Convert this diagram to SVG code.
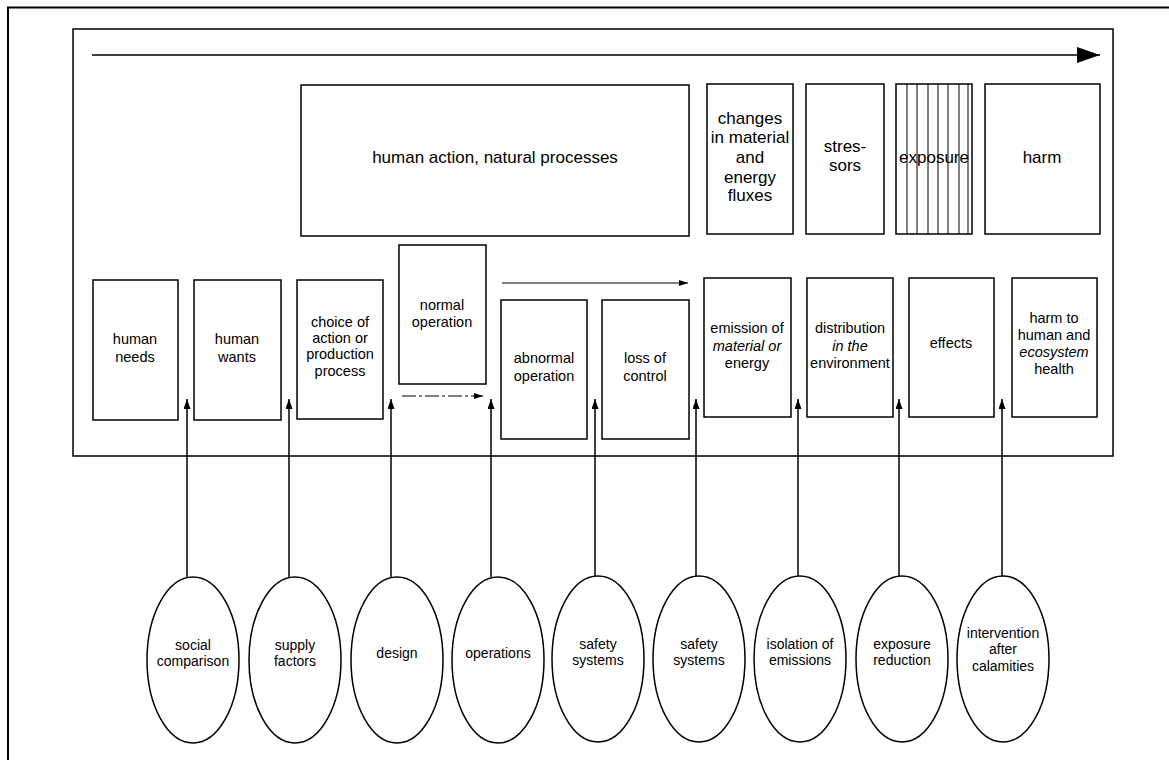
<svg xmlns="http://www.w3.org/2000/svg" width="1169" height="760" viewBox="0 0 1169 760">
<style>
.box{fill:#fff;stroke:#000;stroke-width:1.5}
.frame{fill:none;stroke:#000;stroke-width:2}
.ln{fill:none;stroke:#000;stroke-width:1.5}
.thin{fill:none;stroke:#000;stroke-width:1}
.t{font-family:"Liberation Sans",Arial,sans-serif;fill:#000;text-anchor:middle}
.big{font-size:17px}
.sm{font-size:14.5px}
.el{font-size:14px}
.i{font-style:italic}
</style>
<defs>
<marker id="bigArrow" markerUnits="userSpaceOnUse" markerWidth="24" markerHeight="18" refX="23" refY="8" orient="auto">
<path d="M0,0 L23,8 L0,16 Z" fill="#000"/>
</marker>
<marker id="upArrow" markerUnits="userSpaceOnUse" markerWidth="12" markerHeight="8" refX="10" refY="3.5" orient="auto">
<path d="M0,0 L10,3.5 L0,7 Z" fill="#000"/>
</marker>
<marker id="smArrow" markerUnits="userSpaceOnUse" markerWidth="10" markerHeight="8" refX="9" refY="3" orient="auto">
<path d="M0,0 L9,3 L0,6 Z" fill="#000"/>
</marker>
</defs>

<g id="frame">
<path class="frame" d="M8,760 L8,7.5 L1169,7.5"/>
<rect class="ln" x="73" y="29" width="1040" height="427"/>
</g>

<g id="connectors">
<line class="ln" x1="92" y1="55" x2="1100" y2="55" marker-end="url(#bigArrow)"/>
<line class="thin" x1="402" y1="396" x2="483" y2="396" stroke-dasharray="14,3,3,3" marker-end="url(#smArrow)"/>
<line class="thin" x1="502" y1="283" x2="688" y2="283" marker-end="url(#smArrow)"/>
<line class="ln" x1="187" y1="578" x2="187" y2="399" marker-end="url(#upArrow)"/>
<line class="ln" x1="289" y1="577" x2="289" y2="399" marker-end="url(#upArrow)"/>
<line class="ln" x1="391" y1="577" x2="391" y2="399" marker-end="url(#upArrow)"/>
<line class="ln" x1="491" y1="577" x2="491" y2="399" marker-end="url(#upArrow)"/>
<line class="ln" x1="595" y1="576" x2="595" y2="399" marker-end="url(#upArrow)"/>
<line class="ln" x1="696" y1="576" x2="696" y2="399" marker-end="url(#upArrow)"/>
<line class="ln" x1="798" y1="576" x2="798" y2="399" marker-end="url(#upArrow)"/>
<line class="ln" x1="899" y1="576" x2="899" y2="399" marker-end="url(#upArrow)"/>
<line class="ln" x1="1002" y1="576" x2="1002" y2="399" marker-end="url(#upArrow)"/>
</g>

<g id="human-action">
<rect class="box" x="301" y="85" width="388" height="151"/>
<text class="t big" x="495" y="163">human action, natural processes</text>
</g>
<g id="changes">
<rect class="box" x="707" y="84" width="86" height="150"/>
<text class="t big" x="750" y="124">changes</text>
<text class="t big" x="750" y="143">in material</text>
<text class="t big" x="750" y="163">and</text>
<text class="t big" x="750" y="183">energy</text>
<text class="t big" x="750" y="201">fluxes</text>
</g>
<g id="stressors">
<rect class="box" x="806" y="84" width="78" height="150"/>
<text class="t big" x="845" y="152">stres-</text>
<text class="t big" x="845" y="171">sors</text>
</g>
<g id="exposure">
<rect class="box" x="896" y="84" width="76" height="150"/>
<path class="thin" d="M907,84V234M917,84V234M928,84V234M938,84V234M948,84V234M959,84V234M968,84V234"/>
<text class="t big" x="934" y="163">exposure</text>
</g>
<g id="harm">
<rect class="box" x="985" y="84" width="115" height="150"/>
<text class="t big" x="1042" y="163">harm</text>
</g>

<g id="human-needs">
<rect class="box" x="93" y="280" width="85" height="140"/>
<text class="t sm" x="135" y="344">human</text>
<text class="t sm" x="135" y="362">needs</text>
</g>
<g id="human-wants">
<rect class="box" x="194" y="280" width="87" height="140"/>
<text class="t sm" x="237" y="344">human</text>
<text class="t sm" x="237" y="362">wants</text>
</g>
<g id="choice">
<rect class="box" x="297" y="280" width="86" height="139"/>
<text class="t sm" x="340" y="327">choice of</text>
<text class="t sm" x="340" y="343">action or</text>
<text class="t sm" x="340" y="359">production</text>
<text class="t sm" x="340" y="376">process</text>
</g>
<g id="normal-operation">
<rect class="box" x="399" y="245" width="87" height="139"/>
<text class="t sm" x="442" y="310">normal</text>
<text class="t sm" x="442" y="327">operation</text>
</g>
<g id="abnormal-operation">
<rect class="box" x="501" y="300" width="86" height="139"/>
<text class="t sm" x="544" y="363">abnormal</text>
<text class="t sm" x="544" y="381">operation</text>
</g>
<g id="loss-of-control">
<rect class="box" x="602" y="300" width="87" height="139"/>
<text class="t sm" x="645" y="363">loss of</text>
<text class="t sm" x="645" y="381">control</text>
</g>
<g id="emission">
<rect class="box" x="704" y="278" width="87" height="139"/>
<text class="t sm" x="747" y="333">emission of</text>
<text class="t sm i" x="747" y="351">material or</text>
<text class="t sm" x="747" y="368">energy</text>
</g>
<g id="distribution">
<rect class="box" x="807" y="278" width="86" height="139"/>
<text class="t sm" x="850" y="333">distribution</text>
<text class="t sm i" x="850" y="351">in the</text>
<text class="t sm" x="850" y="368">environment</text>
</g>
<g id="effects">
<rect class="box" x="909" y="278" width="85" height="139"/>
<text class="t sm" x="951" y="348">effects</text>
</g>
<g id="harm-to-health">
<rect class="box" x="1012" y="278" width="85" height="139"/>
<text class="t sm" x="1054" y="323">harm to</text>
<text class="t sm" x="1054" y="340">human and</text>
<text class="t sm i" x="1054" y="357">ecosystem</text>
<text class="t sm" x="1054" y="374">health</text>
</g>

<g id="social-comparison">
<ellipse class="ln" cx="193" cy="660" rx="46" ry="83"/>
<text class="t el" x="193" y="650">social</text>
<text class="t el" x="193" y="666">comparison</text>
</g>
<g id="supply-factors">
<ellipse class="ln" cx="295" cy="660" rx="46" ry="83"/>
<text class="t el" x="295" y="650">supply</text>
<text class="t el" x="295" y="666">factors</text>
</g>
<g id="design">
<ellipse class="ln" cx="397" cy="660" rx="46" ry="83"/>
<text class="t el" x="397" y="658">design</text>
</g>
<g id="operations">
<ellipse class="ln" cx="498" cy="660" rx="46" ry="83"/>
<text class="t el" x="498" y="658">operations</text>
</g>
<g id="safety-systems-1">
<ellipse class="ln" cx="598" cy="659" rx="46" ry="83"/>
<text class="t el" x="598" y="649">safety</text>
<text class="t el" x="598" y="665">systems</text>
</g>
<g id="safety-systems-2">
<ellipse class="ln" cx="699" cy="659" rx="46" ry="83"/>
<text class="t el" x="699" y="649">safety</text>
<text class="t el" x="699" y="665">systems</text>
</g>
<g id="isolation">
<ellipse class="ln" cx="800" cy="659" rx="46" ry="83"/>
<text class="t el" x="800" y="649">isolation of</text>
<text class="t el" x="800" y="665">emissions</text>
</g>
<g id="exposure-reduction">
<ellipse class="ln" cx="902" cy="659" rx="46" ry="83"/>
<text class="t el" x="902" y="649">exposure</text>
<text class="t el" x="902" y="665">reduction</text>
</g>
<g id="intervention">
<ellipse class="ln" cx="1003" cy="659" rx="46" ry="83"/>
<text class="t el" x="1003" y="638">intervention</text>
<text class="t el" x="1003" y="654">after</text>
<text class="t el" x="1003" y="671">calamities</text>
</g>
</svg>
